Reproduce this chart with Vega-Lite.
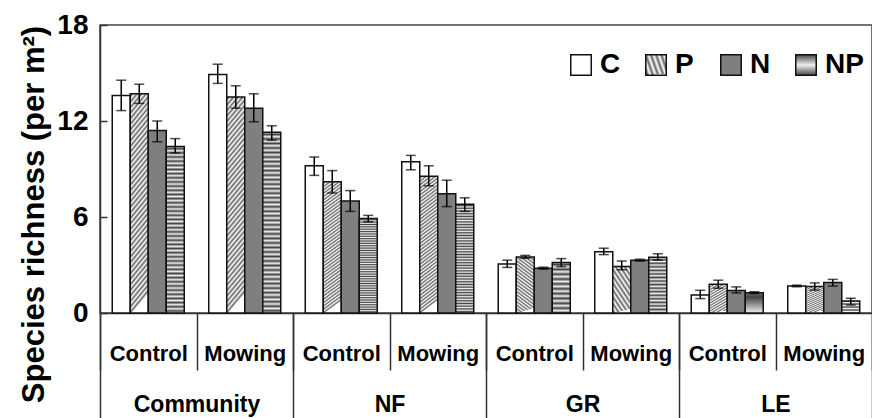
{
  "$schema": "https://vega.github.io/schema/vega-lite/v6.json",
  "width": 772,
  "height": 288,
  "autosize": {"type": "none"},
  "padding": {"left": 100, "top": 25, "right": 0, "bottom": 105},
  "config": {
    "font": "Liberation Sans",
    "view": {"stroke": "#444", "strokeWidth": 1.5},
    "axis": {"domainColor": "#333", "domainWidth": 1.5, "tickColor": "#333", "tickWidth": 1.5, "labelFont": "Liberation Sans", "labelFontWeight": "bold", "labelColor": "black", "grid": false}
  },
  "data": {"values": [
    {"group": "Community", "cell": "Community Control", "fert": "C", "value": 13.6, "lo": 12.65, "hi": 14.55},
    {"group": "Community", "cell": "Community Control", "fert": "P", "value": 13.7, "lo": 13.1, "hi": 14.3},
    {"group": "Community", "cell": "Community Control", "fert": "N", "value": 11.4, "lo": 10.7, "hi": 12.0},
    {"group": "Community", "cell": "Community Control", "fert": "NP", "value": 10.4, "lo": 10.0, "hi": 10.9},
    {"group": "Community", "cell": "Community Mowing", "fert": "C", "value": 14.9, "lo": 14.35, "hi": 15.55},
    {"group": "Community", "cell": "Community Mowing", "fert": "P", "value": 13.5, "lo": 12.8, "hi": 14.2},
    {"group": "Community", "cell": "Community Mowing", "fert": "N", "value": 12.8, "lo": 11.95, "hi": 13.7},
    {"group": "Community", "cell": "Community Mowing", "fert": "NP", "value": 11.3, "lo": 10.8, "hi": 11.7},
    {"group": "NF", "cell": "NF Control", "fert": "C", "value": 9.2, "lo": 8.6, "hi": 9.75},
    {"group": "NF", "cell": "NF Control", "fert": "P", "value": 8.2, "lo": 7.5, "hi": 8.9},
    {"group": "NF", "cell": "NF Control", "fert": "N", "value": 7.0, "lo": 6.35, "hi": 7.65},
    {"group": "NF", "cell": "NF Control", "fert": "NP", "value": 5.9, "lo": 5.7, "hi": 6.1},
    {"group": "NF", "cell": "NF Mowing", "fert": "C", "value": 9.45, "lo": 8.95, "hi": 9.85},
    {"group": "NF", "cell": "NF Mowing", "fert": "P", "value": 8.55, "lo": 7.95, "hi": 9.2},
    {"group": "NF", "cell": "NF Mowing", "fert": "N", "value": 7.45, "lo": 6.65, "hi": 8.3},
    {"group": "NF", "cell": "NF Mowing", "fert": "NP", "value": 6.8, "lo": 6.35, "hi": 7.2},
    {"group": "GR", "cell": "GR Control", "fert": "C", "value": 3.06, "lo": 2.85, "hi": 3.3},
    {"group": "GR", "cell": "GR Control", "fert": "P", "value": 3.5, "lo": 3.42, "hi": 3.6},
    {"group": "GR", "cell": "GR Control", "fert": "N", "value": 2.8, "lo": 2.74, "hi": 2.86},
    {"group": "GR", "cell": "GR Control", "fert": "NP", "value": 3.15, "lo": 2.9, "hi": 3.4},
    {"group": "GR", "cell": "GR Mowing", "fert": "C", "value": 3.83, "lo": 3.65, "hi": 4.05},
    {"group": "GR", "cell": "GR Mowing", "fert": "P", "value": 2.9, "lo": 2.7, "hi": 3.25},
    {"group": "GR", "cell": "GR Mowing", "fert": "N", "value": 3.3, "lo": 3.24, "hi": 3.36},
    {"group": "GR", "cell": "GR Mowing", "fert": "NP", "value": 3.48, "lo": 3.3, "hi": 3.7},
    {"group": "LE", "cell": "LE Control", "fert": "C", "value": 1.13, "lo": 0.9, "hi": 1.42},
    {"group": "LE", "cell": "LE Control", "fert": "P", "value": 1.8, "lo": 1.55, "hi": 2.05},
    {"group": "LE", "cell": "LE Control", "fert": "N", "value": 1.4, "lo": 1.25, "hi": 1.63},
    {"group": "LE", "cell": "LE Control", "fert": "NP", "value": 1.27, "lo": 1.21, "hi": 1.33},
    {"group": "LE", "cell": "LE Mowing", "fert": "C", "value": 1.69, "lo": 1.64, "hi": 1.74},
    {"group": "LE", "cell": "LE Mowing", "fert": "P", "value": 1.65, "lo": 1.43, "hi": 1.88},
    {"group": "LE", "cell": "LE Mowing", "fert": "N", "value": 1.9, "lo": 1.68, "hi": 2.1},
    {"group": "LE", "cell": "LE Mowing", "fert": "NP", "value": 0.75, "lo": 0.5, "hi": 0.92}
  ]},
  "layer": [
    {
      "layer": [
        {
          "mark": {"type": "bar", "stroke": "#111", "strokeWidth": 1.5},
          "encoding": {
            "x": {"field": "cell", "type": "nominal", "sort": null,
                  "scale": {"paddingInner": 0, "paddingOuter": 0},
                  "axis": {"title": null, "orient": "bottom", "tickBand": "extent", "tickSize": 57, "labelPadding": -10, "labelBaseline": "alphabetic", "labelFontSize": 22, "labelAngle": 0, "labelExpr": "split(datum.value, ' ')[1]"}},
            "xOffset": {"field": "fert", "type": "nominal", "sort": ["C", "P", "N", "NP"], "scale": {"paddingInner": 0, "paddingOuter": 0.68}},
            "y": {"field": "value", "type": "quantitative", "scale": {"domain": [0, 18], "nice": false},
                  "axis": {"values": [0, 6, 12, 18], "tickSize": -7, "labelPadding": 19, "labelFontSize": 28,
                           "title": "Species richness (per m²)", "titleFontSize": 31, "titleFontWeight": "bold", "titleColor": "black", "titleFont": "Liberation Sans",
                           "titleAngle": -90, "titleX": -57, "titleY": 189, "titleAlign": "center", "titleBaseline": "alphabetic"}},
            "fill": {"field": "fert", "type": "nominal",
                     "scale": {"domain": ["C", "P", "N", "NP"], "range": [
                       "#ffffff",
                       {"expr": "{gradient:'linear',x1:0,y1:0,x2:0.1,y2:1,stops:[{offset:0,color:'#fff'},{offset:0.0125,color:'#666'},{offset:0.025,color:'#fff'},{offset:0.0375,color:'#666'},{offset:0.05,color:'#fff'},{offset:0.0625,color:'#666'},{offset:0.075,color:'#fff'},{offset:0.0875,color:'#666'},{offset:0.1,color:'#fff'},{offset:0.1125,color:'#666'},{offset:0.125,color:'#fff'},{offset:0.1375,color:'#666'},{offset:0.15,color:'#fff'},{offset:0.1625,color:'#666'},{offset:0.175,color:'#fff'},{offset:0.1875,color:'#666'},{offset:0.2,color:'#fff'},{offset:0.2125,color:'#666'},{offset:0.225,color:'#fff'},{offset:0.2375,color:'#666'},{offset:0.25,color:'#fff'},{offset:0.2625,color:'#666'},{offset:0.275,color:'#fff'},{offset:0.2875,color:'#666'},{offset:0.3,color:'#fff'},{offset:0.3125,color:'#666'},{offset:0.325,color:'#fff'},{offset:0.3375,color:'#666'},{offset:0.35,color:'#fff'},{offset:0.3625,color:'#666'},{offset:0.375,color:'#fff'},{offset:0.3875,color:'#666'},{offset:0.4,color:'#fff'},{offset:0.4125,color:'#666'},{offset:0.425,color:'#fff'},{offset:0.4375,color:'#666'},{offset:0.45,color:'#fff'},{offset:0.4625,color:'#666'},{offset:0.475,color:'#fff'},{offset:0.4875,color:'#666'},{offset:0.5,color:'#fff'},{offset:0.5125,color:'#666'},{offset:0.525,color:'#fff'},{offset:0.5375,color:'#666'},{offset:0.55,color:'#fff'},{offset:0.5625,color:'#666'},{offset:0.575,color:'#fff'},{offset:0.5875,color:'#666'},{offset:0.6,color:'#fff'},{offset:0.6125,color:'#666'},{offset:0.625,color:'#fff'},{offset:0.6375,color:'#666'},{offset:0.65,color:'#fff'},{offset:0.6625,color:'#666'},{offset:0.675,color:'#fff'},{offset:0.6875,color:'#666'},{offset:0.7,color:'#fff'},{offset:0.7125,color:'#666'},{offset:0.725,color:'#fff'},{offset:0.7375,color:'#666'},{offset:0.75,color:'#fff'},{offset:0.7625,color:'#666'},{offset:0.775,color:'#fff'},{offset:0.7875,color:'#666'},{offset:0.8,color:'#fff'},{offset:0.8125,color:'#666'},{offset:0.825,color:'#fff'},{offset:0.8375,color:'#666'},{offset:0.85,color:'#fff'},{offset:0.8625,color:'#666'},{offset:0.875,color:'#fff'},{offset:0.8875,color:'#666'},{offset:0.9,color:'#fff'},{offset:0.9125,color:'#666'},{offset:0.925,color:'#fff'},{offset:0.9375,color:'#666'},{offset:0.95,color:'#fff'},{offset:0.9625,color:'#666'},{offset:0.975,color:'#fff'},{offset:0.9875,color:'#666'},{offset:1,color:'#fff'}]}"},
                       "#7f7f7f",
                       {"expr": "{gradient:'linear',x1:0,y1:0,x2:0,y2:1,stops:[{offset:0,color:'#eee'},{offset:0.0125,color:'#444'},{offset:0.025,color:'#eee'},{offset:0.0375,color:'#444'},{offset:0.05,color:'#eee'},{offset:0.0625,color:'#444'},{offset:0.075,color:'#eee'},{offset:0.0875,color:'#444'},{offset:0.1,color:'#eee'},{offset:0.1125,color:'#444'},{offset:0.125,color:'#eee'},{offset:0.1375,color:'#444'},{offset:0.15,color:'#eee'},{offset:0.1625,color:'#444'},{offset:0.175,color:'#eee'},{offset:0.1875,color:'#444'},{offset:0.2,color:'#eee'},{offset:0.2125,color:'#444'},{offset:0.225,color:'#eee'},{offset:0.2375,color:'#444'},{offset:0.25,color:'#eee'},{offset:0.2625,color:'#444'},{offset:0.275,color:'#eee'},{offset:0.2875,color:'#444'},{offset:0.3,color:'#eee'},{offset:0.3125,color:'#444'},{offset:0.325,color:'#eee'},{offset:0.3375,color:'#444'},{offset:0.35,color:'#eee'},{offset:0.3625,color:'#444'},{offset:0.375,color:'#eee'},{offset:0.3875,color:'#444'},{offset:0.4,color:'#eee'},{offset:0.4125,color:'#444'},{offset:0.425,color:'#eee'},{offset:0.4375,color:'#444'},{offset:0.45,color:'#eee'},{offset:0.4625,color:'#444'},{offset:0.475,color:'#eee'},{offset:0.4875,color:'#444'},{offset:0.5,color:'#eee'},{offset:0.5125,color:'#444'},{offset:0.525,color:'#eee'},{offset:0.5375,color:'#444'},{offset:0.55,color:'#eee'},{offset:0.5625,color:'#444'},{offset:0.575,color:'#eee'},{offset:0.5875,color:'#444'},{offset:0.6,color:'#eee'},{offset:0.6125,color:'#444'},{offset:0.625,color:'#eee'},{offset:0.6375,color:'#444'},{offset:0.65,color:'#eee'},{offset:0.6625,color:'#444'},{offset:0.675,color:'#eee'},{offset:0.6875,color:'#444'},{offset:0.7,color:'#eee'},{offset:0.7125,color:'#444'},{offset:0.725,color:'#eee'},{offset:0.7375,color:'#444'},{offset:0.75,color:'#eee'},{offset:0.7625,color:'#444'},{offset:0.775,color:'#eee'},{offset:0.7875,color:'#444'},{offset:0.8,color:'#eee'},{offset:0.8125,color:'#444'},{offset:0.825,color:'#eee'},{offset:0.8375,color:'#444'},{offset:0.85,color:'#eee'},{offset:0.8625,color:'#444'},{offset:0.875,color:'#eee'},{offset:0.8875,color:'#444'},{offset:0.9,color:'#eee'},{offset:0.9125,color:'#444'},{offset:0.925,color:'#eee'},{offset:0.9375,color:'#444'},{offset:0.95,color:'#eee'},{offset:0.9625,color:'#444'},{offset:0.975,color:'#eee'},{offset:0.9875,color:'#444'},{offset:1,color:'#eee'}]}"}
                     ]},
                     "legend": {"title": null, "orient": "none", "legendX": 467, "legendY": 26, "direction": "horizontal", "columns": 4,
                                "symbolType": "square", "symbolSize": 420, "symbolStrokeColor": "#111", "symbolStrokeWidth": 1.5,
                                "labelFontSize": 28, "labelFontWeight": "bold", "labelFont": "Liberation Sans", "labelColor": "black",
                                "labelOffset": 5, "columnPadding": 3, "gridAlign": "all"}}
          }
        },
        {
          "mark": {"type": "rule", "color": "black", "strokeWidth": 1.5},
          "encoding": {
            "x": {"field": "cell", "type": "nominal", "sort": null},
            "xOffset": {"field": "fert", "type": "nominal", "sort": ["C", "P", "N", "NP"]},
            "y": {"field": "lo", "type": "quantitative", "scale": {"domain": [0, 18], "nice": false}},
            "y2": {"field": "hi"}
          }
        },
        {
          "mark": {"type": "tick", "color": "black", "thickness": 1.5, "size": 10},
          "encoding": {
            "x": {"field": "cell", "type": "nominal", "sort": null},
            "xOffset": {"field": "fert", "type": "nominal", "sort": ["C", "P", "N", "NP"]},
            "y": {"field": "lo", "type": "quantitative", "scale": {"domain": [0, 18], "nice": false}}
          }
        },
        {
          "mark": {"type": "tick", "color": "black", "thickness": 1.5, "size": 10},
          "encoding": {
            "x": {"field": "cell", "type": "nominal", "sort": null},
            "xOffset": {"field": "fert", "type": "nominal", "sort": ["C", "P", "N", "NP"]},
            "y": {"field": "hi", "type": "quantitative", "scale": {"domain": [0, 18], "nice": false}}
          }
        }
      ]
    },
    {
      "mark": {"type": "point", "opacity": 0},
      "encoding": {
        "x": {"field": "group", "type": "nominal", "sort": null,
              "scale": {"type": "band", "paddingInner": 0, "paddingOuter": 0},
              "axis": {"title": null, "orient": "bottom", "domain": false, "tickBand": "extent", "tickSize": 105, "labelPadding": -7, "labelBaseline": "alphabetic", "labelFontSize": 23, "labelAngle": 0}}
      }
    }
  ],
  "resolve": {"scale": {"x": "independent"}}
}
